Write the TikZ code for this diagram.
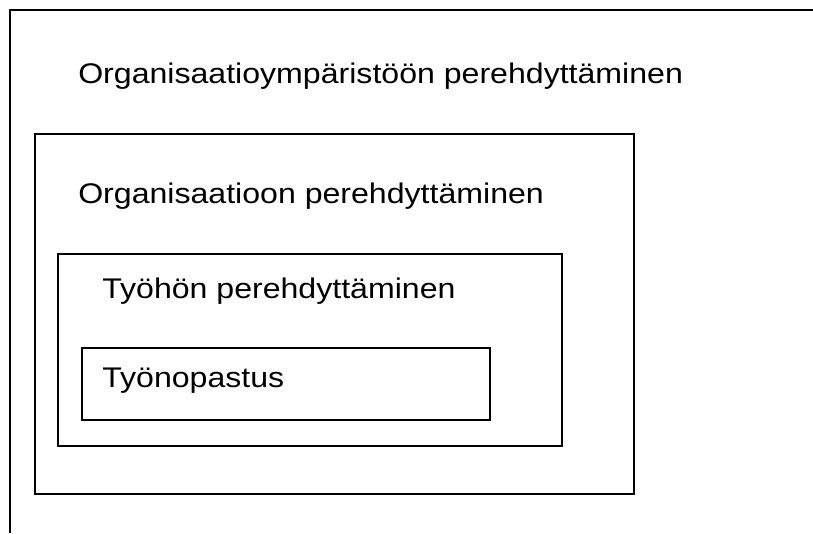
\documentclass[tikz,border=0pt]{standalone}
\usepackage{fontspec}
\setmainfont{Liberation Sans}[FakeStretch=1.13]
\usepackage{tikz}
\usetikzlibrary{positioning}

\begin{document}
\begin{tikzpicture}[
    x=0.75pt, y=-0.75pt,
    frame/.style={draw, line width=1.2pt},
    boxtitle/.style={anchor=base west, inner sep=0, font=\fontsize{21.3}{25}\selectfont}]
\useasboundingbox (0,0) rectangle (813,533);

% nested frames
\path[frame] (10,533) -- (10,10) -- (813,10);
\path[frame] (35,134) rectangle (634,494);
\path[frame] (58,254) rectangle (562,446);
\path[frame] (82,348) rectangle (490,420);

\node[boxtitle] (envtitle)  at (78,83)   {Organisaatioympäristöön perehdyttäminen};
\node[boxtitle] (orgtitle)  at (78,203)  {Organisaatioon perehdyttäminen};
\node[boxtitle] (worktitle) at (102,298) {Työhön perehdyttäminen};
\node[boxtitle] (guidetitle) at (102,387) {Työnopastus};

\end{tikzpicture}
\end{document}
